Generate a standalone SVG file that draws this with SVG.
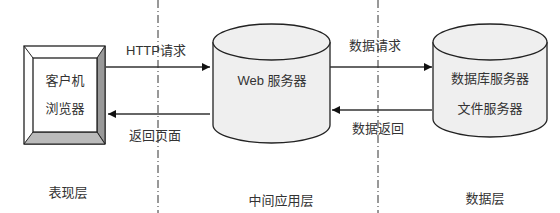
<svg xmlns="http://www.w3.org/2000/svg" width="560" height="213" viewBox="0 0 560 213">
<defs>
<style>
text{font-family:"Liberation Sans","Noto Sans CJK SC",sans-serif;font-size:13px;fill:#333;text-anchor:middle}
.sep{stroke:#333;stroke-width:1;stroke-dasharray:8 3 1 3;fill:none}
.conn{stroke:#333;stroke-width:1.3;fill:none}
.cyl{fill:#efefef;stroke:#222;stroke-width:1.3}
</style>
<marker id="ah" markerWidth="8" markerHeight="8" refX="8" refY="4" orient="auto" markerUnits="userSpaceOnUse">
<path d="M0,0 L8,4 L0,8 z" fill="#111"/>
</marker>
</defs>
<rect width="560" height="213" fill="#fff"/>
<g id="separators">
<line class="sep" x1="158" y1="0" x2="158" y2="213"/>
<line class="sep" x1="378" y1="0" x2="378" y2="213"/>
</g>
<g id="browser">
<rect x="24" y="46" width="81" height="98" fill="#fff" stroke="#222" stroke-width="1.3"/>
<polygon points="97,58 105,46 105,144 97,132" fill="#999" stroke="#222" stroke-width="1"/>
<polygon points="33,132 97,132 105,144 24,144" fill="#bbb" stroke="#222" stroke-width="1"/>
<line x1="24" y1="46" x2="33" y2="58" stroke="#222"/>
<rect x="33" y="58" width="64" height="74" fill="#fff" stroke="#222" stroke-width="1.3"/>
<text x="65" y="85">客户机</text>
<text x="65" y="113">浏览器</text>
</g>
<g id="web">
<path class="cyl" d="M213,42 L213,125 A58.5,18 0 0 0 330,125 L330,42"/>
<ellipse class="cyl" cx="271.5" cy="42" rx="58.5" ry="18"/>
<text x="272" y="85">Web 服务器</text>
</g>
<g id="data">
<path class="cyl" d="M433,42 L433,119 A57,18 0 0 0 547,119 L547,42"/>
<ellipse class="cyl" cx="490" cy="42" rx="57" ry="18"/>
<text x="490" y="83">数据库服务器</text>
<text x="490" y="113">文件服务器</text>
</g>
<g id="connectors">
<line class="conn" x1="106" y1="67" x2="210" y2="67" marker-end="url(#ah)"/>
<line class="conn" x1="210" y1="114" x2="108" y2="114" marker-end="url(#ah)"/>
<line class="conn" x1="330" y1="67" x2="432" y2="67" marker-end="url(#ah)"/>
<line class="conn" x1="432" y1="110" x2="332" y2="110" marker-end="url(#ah)"/>
</g>
<g id="labels">
<text x="156" y="55">HTTP请求</text>
<text x="155" y="140">返回页面</text>
<text x="375" y="50">数据请求</text>
<text x="378" y="133">数据返回</text>
<text x="68" y="197">表现层</text>
<text x="281" y="205">中间应用层</text>
<text x="485" y="203">数据层</text>
</g>
</svg>
